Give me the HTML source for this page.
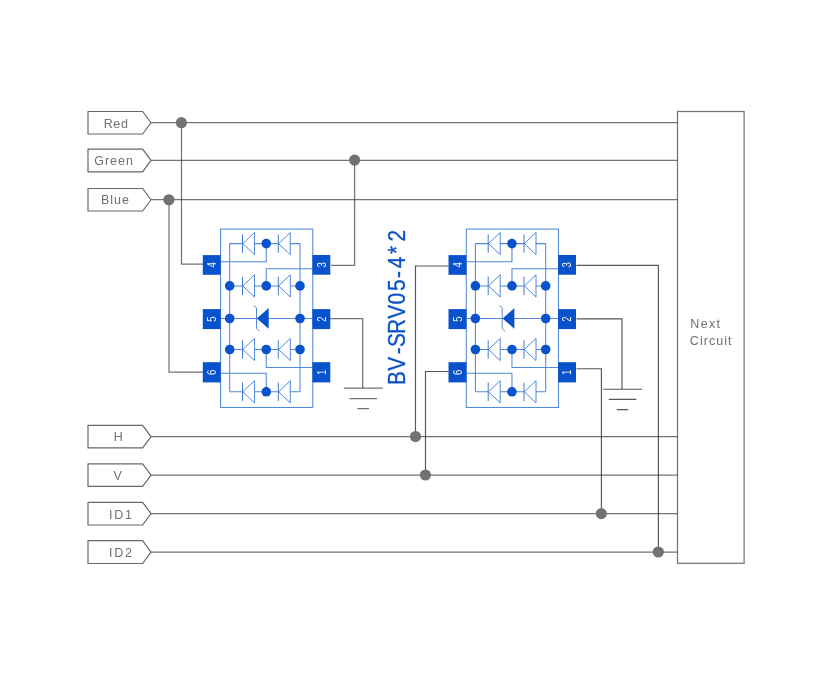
<!DOCTYPE html>
<html lang="en"><head><meta charset="utf-8"><title>BV-SRV05-4*2</title>
<style>
html,body{margin:0;padding:0;background:#fff;}
body{width:832px;height:675px;overflow:hidden;}
svg{display:block;font-family:"Liberation Sans",sans-serif;}
</style></head><body>
<svg width="832" height="675" viewBox="0 0 832 675">
<rect width="832" height="675" fill="#fff"/>
<g fill="none" stroke="#2c2c2c" stroke-opacity="0.66" stroke-width="1.25">
<path d="M151 122.5H677.5"/>
<path d="M151 160.3H677.5"/>
<path d="M151 199.7H677.5"/>
<path d="M151 436.5H677.5"/>
<path d="M151 475.0H677.5"/>
<path d="M151 513.5H677.5"/>
<path d="M151 552.0H677.5"/>
<rect x="677.5" y="111.5" width="66.6" height="451.8"/>
<g>
<path d="M181.5 122.5V264.1H203"/>
<path d="M169 199.7V372H203"/>
<path d="M354.6 160.3V265.4H331"/>
<path d="M330 318.6H362.7V388.2"/>
<path d="M343.8 388.2H382.8M349.4 398.5H377.1M357.4 408.7H369"/>
</g>
<g stroke-opacity="0.8" stroke-width="1.15">
<path d="M448.5 266H415.5V436.5"/>
<path d="M448.5 371.5H425.5V475"/>
<path d="M576.5 265.3H658.4V552"/>
<path d="M576.5 318.9H622V389.2"/>
<path d="M603 389.2H642M608.7 399.4H636.3M616.8 409.6H628.1"/>
<path d="M576.5 368.7H601.4V513.5"/>
</g>
</g>
<circle cx="181.4" cy="122.7" r="5.6" fill="#727272"/>
<circle cx="354.6" cy="160.1" r="5.6" fill="#727272"/>
<circle cx="168.9" cy="199.8" r="5.6" fill="#727272"/>
<circle cx="415.5" cy="436.5" r="5.6" fill="#727272"/>
<circle cx="425.4" cy="475" r="5.6" fill="#727272"/>
<circle cx="601.3" cy="513.6" r="5.6" fill="#727272"/>
<circle cx="658.3" cy="552" r="5.6" fill="#727272"/>
<path d="M88 111.5H142.6L151 122.75L142.6 134H88Z" fill="#fff" stroke="#686868" stroke-width="1.2" stroke-linejoin="round"/>
<path d="M88 149.1H142.6L151 160.45L142.6 171.8H88Z" fill="#fff" stroke="#686868" stroke-width="1.2" stroke-linejoin="round"/>
<path d="M88 188.5H142.6L151 199.75L142.6 211.0H88Z" fill="#fff" stroke="#686868" stroke-width="1.2" stroke-linejoin="round"/>
<path d="M88 425.3H142.6L151 436.6L142.6 447.9H88Z" fill="#fff" stroke="#686868" stroke-width="1.2" stroke-linejoin="round"/>
<path d="M88 463.8H142.6L151 475.05L142.6 486.3H88Z" fill="#fff" stroke="#686868" stroke-width="1.2" stroke-linejoin="round"/>
<path d="M88 502.3H142.6L151 513.65L142.6 525H88Z" fill="#fff" stroke="#686868" stroke-width="1.2" stroke-linejoin="round"/>
<path d="M88 540.7H142.6L151 552.1L142.6 563.5H88Z" fill="#fff" stroke="#686868" stroke-width="1.2" stroke-linejoin="round"/>
<g style="mix-blend-mode:multiply">
<text transform="translate(103.7 127.8) scale(0.92 1)" fill="#707070" font-size="13.6" letter-spacing="0.7">Red</text>
<text transform="translate(94.3 165.3) scale(0.92 1)" fill="#707070" font-size="13.6" letter-spacing="1.05">Green</text>
<text transform="translate(100.9 204.4) scale(0.92 1)" fill="#707070" font-size="13.6" letter-spacing="1.1">Blue</text>
<text transform="translate(113.8 440.5) scale(0.92 1)" fill="#707070" font-size="13.6" letter-spacing="0">H</text>
<text transform="translate(113.6 479.7) scale(0.92 1)" fill="#707070" font-size="13.6" letter-spacing="0">V</text>
<text transform="translate(109.1 518.5) scale(0.92 1)" fill="#707070" font-size="13.6" letter-spacing="1.9">ID1</text>
<text transform="translate(109.1 557.0) scale(0.92 1)" fill="#707070" font-size="13.6" letter-spacing="1.9">ID2</text>
<text transform="translate(690.3 327.6) scale(0.92 1)" fill="#707070" font-size="13.6" letter-spacing="1.42">Next</text>
<text transform="translate(689.85 344.6) scale(0.92 1)" fill="#707070" font-size="13.6" letter-spacing="1.15">Circuit</text>
</g>
<g transform="translate(0,0)" fill="none" stroke="#5188da" stroke-width="1.05">
<rect x="220.6" y="229.1" width="92.2" height="178.4"/>
<path d="M229.7 243.6V391.8M300.0 243.6V391.8"/>
<path d="M229.7 243.6H300.0"/>
<path d="M229.7 285.9H300.0"/>
<path d="M229.7 349.5H300.0"/>
<path d="M229.7 391.8H300.0"/>
<path d="M221 318.5H312.5"/>
<path d="M221 261.8H266.25V243.6"/>
<path d="M312.5 268.7H266.25V285.9"/>
<path d="M312.5 367.5H266.25V349.5"/>
<path d="M221 373.3H266.25V391.8"/>
<path d="M242.5 234.40V252.80" stroke="#3f7ad4" stroke-width="1"/>
<path d="M242.8 243.6L254.5 232.50V254.70Z" fill="#fff" stroke="#3f7ad4" stroke-width="0.9"/>
<path d="M278.3 234.40V252.80" stroke="#3f7ad4" stroke-width="1"/>
<path d="M278.6 243.6L290.3 232.50V254.70Z" fill="#fff" stroke="#3f7ad4" stroke-width="0.9"/>
<path d="M242.5 276.70V295.10" stroke="#3f7ad4" stroke-width="1"/>
<path d="M242.8 285.9L254.5 274.80V297.00Z" fill="#fff" stroke="#3f7ad4" stroke-width="0.9"/>
<path d="M278.3 276.70V295.10" stroke="#3f7ad4" stroke-width="1"/>
<path d="M278.6 285.9L290.3 274.80V297.00Z" fill="#fff" stroke="#3f7ad4" stroke-width="0.9"/>
<path d="M242.5 340.30V358.70" stroke="#3f7ad4" stroke-width="1"/>
<path d="M242.8 349.5L254.5 338.40V360.60Z" fill="#fff" stroke="#3f7ad4" stroke-width="0.9"/>
<path d="M278.3 340.30V358.70" stroke="#3f7ad4" stroke-width="1"/>
<path d="M278.6 349.5L290.3 338.40V360.60Z" fill="#fff" stroke="#3f7ad4" stroke-width="0.9"/>
<path d="M242.5 382.60V401.00" stroke="#3f7ad4" stroke-width="1"/>
<path d="M242.8 391.8L254.5 380.70V402.90Z" fill="#fff" stroke="#3f7ad4" stroke-width="0.9"/>
<path d="M278.3 382.60V401.00" stroke="#3f7ad4" stroke-width="1"/>
<path d="M278.6 391.8L290.3 380.70V402.90Z" fill="#fff" stroke="#3f7ad4" stroke-width="0.9"/>
<path d="M253.7 305.7L256.5 307.8V328.4L259.3 331.2" stroke="#3f7ad4" stroke-width="0.9"/>
<path d="M256.9 318.5L268.7 308.1V328.8Z" fill="#0852cc" stroke="none"/>
<circle cx="266.25" cy="243.6" r="4.8" fill="#0852cc" stroke="none"/>
<circle cx="229.7" cy="285.9" r="4.8" fill="#0852cc" stroke="none"/>
<circle cx="266.25" cy="285.9" r="4.8" fill="#0852cc" stroke="none"/>
<circle cx="300.0" cy="285.9" r="4.8" fill="#0852cc" stroke="none"/>
<circle cx="229.7" cy="318.5" r="4.8" fill="#0852cc" stroke="none"/>
<circle cx="300.0" cy="318.5" r="4.8" fill="#0852cc" stroke="none"/>
<circle cx="229.7" cy="349.5" r="4.8" fill="#0852cc" stroke="none"/>
<circle cx="266.25" cy="349.5" r="4.8" fill="#0852cc" stroke="none"/>
<circle cx="300.0" cy="349.5" r="4.8" fill="#0852cc" stroke="none"/>
<circle cx="266.25" cy="391.8" r="4.8" fill="#0852cc" stroke="none"/>
<rect x="202.8" y="255.1" width="17.9" height="19.7" fill="#0852cc" stroke="none"/>
<rect x="202.8" y="309.1" width="17.9" height="20" fill="#0852cc" stroke="none"/>
<rect x="202.8" y="362.2" width="17.9" height="20.2" fill="#0852cc" stroke="none"/>
<rect x="312.4" y="255.0" width="17.9" height="19.7" fill="#0852cc" stroke="none"/>
<rect x="312.4" y="309.1" width="17.9" height="20" fill="#0852cc" stroke="none"/>
<rect x="312.4" y="362.2" width="17.9" height="20.2" fill="#0852cc" stroke="none"/>
</g>
<g transform="translate(245.7,0)" fill="none" stroke="#5188da" stroke-width="1.05">
<rect x="220.6" y="229.1" width="92.2" height="178.4"/>
<path d="M229.7 243.6V391.8M300.0 243.6V391.8"/>
<path d="M229.7 243.6H300.0"/>
<path d="M229.7 285.9H300.0"/>
<path d="M229.7 349.5H300.0"/>
<path d="M229.7 391.8H300.0"/>
<path d="M221 318.5H312.5"/>
<path d="M221 261.8H266.25V243.6"/>
<path d="M312.5 268.7H266.25V285.9"/>
<path d="M312.5 367.5H266.25V349.5"/>
<path d="M221 373.3H266.25V391.8"/>
<path d="M242.5 234.40V252.80" stroke="#3f7ad4" stroke-width="1"/>
<path d="M242.8 243.6L254.5 232.50V254.70Z" fill="#fff" stroke="#3f7ad4" stroke-width="0.9"/>
<path d="M278.3 234.40V252.80" stroke="#3f7ad4" stroke-width="1"/>
<path d="M278.6 243.6L290.3 232.50V254.70Z" fill="#fff" stroke="#3f7ad4" stroke-width="0.9"/>
<path d="M242.5 276.70V295.10" stroke="#3f7ad4" stroke-width="1"/>
<path d="M242.8 285.9L254.5 274.80V297.00Z" fill="#fff" stroke="#3f7ad4" stroke-width="0.9"/>
<path d="M278.3 276.70V295.10" stroke="#3f7ad4" stroke-width="1"/>
<path d="M278.6 285.9L290.3 274.80V297.00Z" fill="#fff" stroke="#3f7ad4" stroke-width="0.9"/>
<path d="M242.5 340.30V358.70" stroke="#3f7ad4" stroke-width="1"/>
<path d="M242.8 349.5L254.5 338.40V360.60Z" fill="#fff" stroke="#3f7ad4" stroke-width="0.9"/>
<path d="M278.3 340.30V358.70" stroke="#3f7ad4" stroke-width="1"/>
<path d="M278.6 349.5L290.3 338.40V360.60Z" fill="#fff" stroke="#3f7ad4" stroke-width="0.9"/>
<path d="M242.5 382.60V401.00" stroke="#3f7ad4" stroke-width="1"/>
<path d="M242.8 391.8L254.5 380.70V402.90Z" fill="#fff" stroke="#3f7ad4" stroke-width="0.9"/>
<path d="M278.3 382.60V401.00" stroke="#3f7ad4" stroke-width="1"/>
<path d="M278.6 391.8L290.3 380.70V402.90Z" fill="#fff" stroke="#3f7ad4" stroke-width="0.9"/>
<path d="M253.7 305.7L256.5 307.8V328.4L259.3 331.2" stroke="#3f7ad4" stroke-width="0.9"/>
<path d="M256.9 318.5L268.7 308.1V328.8Z" fill="#0852cc" stroke="none"/>
<circle cx="266.25" cy="243.6" r="4.8" fill="#0852cc" stroke="none"/>
<circle cx="229.7" cy="285.9" r="4.8" fill="#0852cc" stroke="none"/>
<circle cx="266.25" cy="285.9" r="4.8" fill="#0852cc" stroke="none"/>
<circle cx="300.0" cy="285.9" r="4.8" fill="#0852cc" stroke="none"/>
<circle cx="229.7" cy="318.5" r="4.8" fill="#0852cc" stroke="none"/>
<circle cx="300.0" cy="318.5" r="4.8" fill="#0852cc" stroke="none"/>
<circle cx="229.7" cy="349.5" r="4.8" fill="#0852cc" stroke="none"/>
<circle cx="266.25" cy="349.5" r="4.8" fill="#0852cc" stroke="none"/>
<circle cx="300.0" cy="349.5" r="4.8" fill="#0852cc" stroke="none"/>
<circle cx="266.25" cy="391.8" r="4.8" fill="#0852cc" stroke="none"/>
<rect x="202.8" y="255.1" width="17.9" height="19.7" fill="#0852cc" stroke="none"/>
<rect x="202.8" y="309.1" width="17.9" height="20" fill="#0852cc" stroke="none"/>
<rect x="202.8" y="362.2" width="17.9" height="20.2" fill="#0852cc" stroke="none"/>
<rect x="312.4" y="255.0" width="17.9" height="19.7" fill="#0852cc" stroke="none"/>
<rect x="312.4" y="309.1" width="17.9" height="20" fill="#0852cc" stroke="none"/>
<rect x="312.4" y="362.2" width="17.9" height="20.2" fill="#0852cc" stroke="none"/>
</g>
<g fill="#fff" fill-opacity="0.92" style="filter:blur(0px)">
<text transform="translate(211.70 264.95) rotate(-90) scale(0.8 1)" x="0" y="4.25" text-anchor="middle" font-size="12">4</text>
<text transform="translate(211.70 319.10) rotate(-90) scale(0.8 1)" x="0" y="4.25" text-anchor="middle" font-size="12">5</text>
<text transform="translate(211.70 372.30) rotate(-90) scale(0.8 1)" x="0" y="4.25" text-anchor="middle" font-size="12">6</text>
<text transform="translate(321.30 264.85) rotate(-90) scale(0.8 1)" x="0" y="4.25" text-anchor="middle" font-size="12">3</text>
<text transform="translate(321.30 319.10) rotate(-90) scale(0.8 1)" x="0" y="4.25" text-anchor="middle" font-size="12">2</text>
<text transform="translate(321.30 372.30) rotate(-90) scale(0.8 1)" x="0" y="4.25" text-anchor="middle" font-size="12">1</text>
<text transform="translate(457.40 264.95) rotate(-90) scale(0.8 1)" x="0" y="4.25" text-anchor="middle" font-size="12">4</text>
<text transform="translate(457.40 319.10) rotate(-90) scale(0.8 1)" x="0" y="4.25" text-anchor="middle" font-size="12">5</text>
<text transform="translate(457.40 372.30) rotate(-90) scale(0.8 1)" x="0" y="4.25" text-anchor="middle" font-size="12">6</text>
<text transform="translate(567.00 264.85) rotate(-90) scale(0.8 1)" x="0" y="4.25" text-anchor="middle" font-size="12">3</text>
<text transform="translate(567.00 319.10) rotate(-90) scale(0.8 1)" x="0" y="4.25" text-anchor="middle" font-size="12">2</text>
<text transform="translate(567.00 372.30) rotate(-90) scale(0.8 1)" x="0" y="4.25" text-anchor="middle" font-size="12">1</text>
</g>
<g style="filter:blur(0px)"><text transform="translate(404.7 383.0) rotate(-90) scale(0.885 1)" x="-2.31 13.75 32.52 40.82 55.24 72.62 88.79 103.87 118.57 129.57 145.71 159.81" y="0" fill="#0c52c6" stroke="#0c52c6" stroke-width="0.3" font-size="23.6">BV-SRV05-4*2</text></g>
</svg>
</body></html>
